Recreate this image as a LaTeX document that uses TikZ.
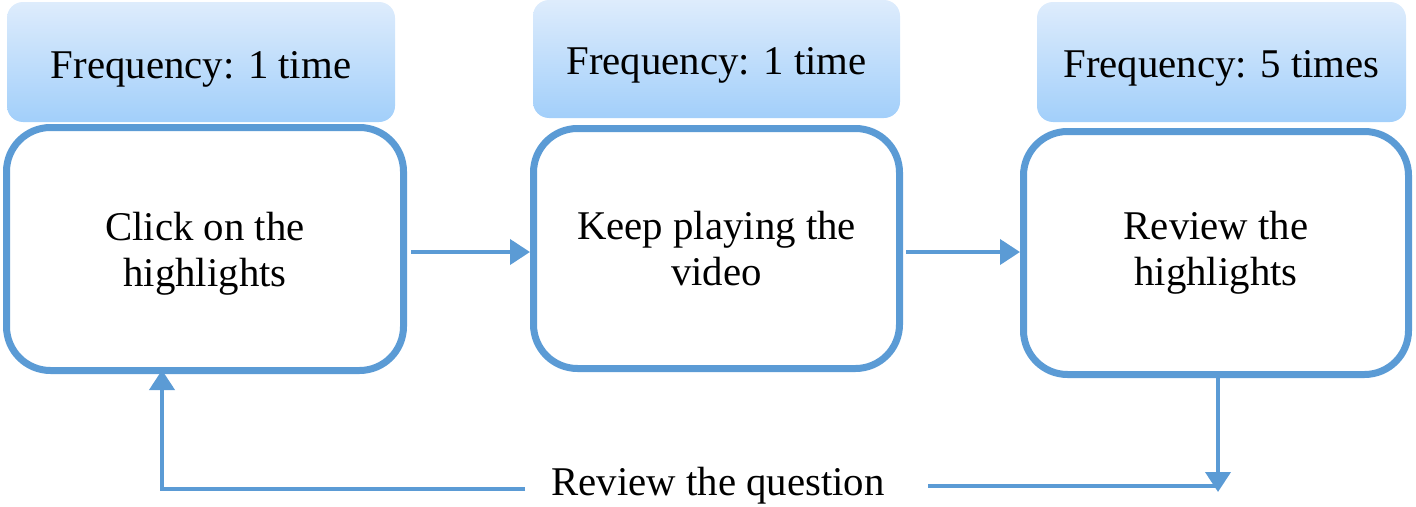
\documentclass[tikz,border=0pt]{standalone}
\usepackage{fontspec}
\setmainfont{Liberation Serif}
\usetikzlibrary{arrows.meta}
\definecolor{officeblue}{HTML}{5B9BD5}
\definecolor{hdrtop}{HTML}{DEECFC}
\definecolor{hdrbot}{HTML}{A2CFFA}
\begin{document}
\begin{tikzpicture}[x=1pt,y=-1pt,
  stepbox/.style={draw=officeblue, line width=7pt, rounded corners=44pt, fill=white,
    inner sep=0pt, align=center, font=\fontsize{40.8}{46}\selectfont},
  header/.style={rounded corners=16pt, top color=hdrtop, bottom color=hdrbot, draw=none,
    inner sep=0pt, font=\fontsize{40.8}{46}\selectfont},
  conn/.style={draw=officeblue, line width=4pt},
  arr/.style={conn, -{Triangle[length=20pt,width=25pt]}},
  lbl/.style={font=\fontsize{40.8}{46}\selectfont, inner sep=0pt, align=center}
]
\useasboundingbox (0,0) rectangle (1416,506);
% headers
\node[header, minimum width=388pt, minimum height=120pt] (h1) at (201,62) {};
\node[header, minimum width=367pt, minimum height=118pt] (h2) at (716.5,59) {};
\node[header, minimum width=369pt, minimum height=120pt] (h3) at (1221.5,62) {};
\node[lbl] (t1) at (201,69) {Frequency: 1 time};
\node[lbl] (t2) at (716.5,65) {Frequency: 1 time};
\node[lbl] (t3) at (1221.5,68) {Frequency: 5 times};
% boxes
\node[stepbox, minimum width=397pt, minimum height=243pt] (b1) at (205,249) {};
\node[lbl] (b1t) at (205,254) {Click on the\\highlights};
\node[stepbox, minimum width=366pt, minimum height=240pt] (b2) at (716.5,248.5)
  {Keep playing the\\video};
\node[stepbox, minimum width=385pt, minimum height=243pt] (b3) at (1216,253)
  {Review the\\highlights};
% forward arrows
\coordinate (a1s) at (411,252);
\coordinate (a2s) at (906,252);
\draw[arr] (a1s) -- (a1s -| b2.west);
\draw[arr] (a2s) -- (a2s -| b3.west);
% feedback
\node[lbl] (q) at (718,486) {Review the question};
\coordinate (qL) at (525,489);
\coordinate (fbL) at (162,489);
\coordinate (qR) at (928,486);
\coordinate (fbR) at (1216,486);
\coordinate (dn) at (1218,492);
\draw[arr] (qL) -- (fbL) -- ([yshift=4pt]fbL |- b1.south);
\draw[conn] (qR) -- (fbR);
\draw[arr] ([yshift=3pt]dn |- b3.south) -- (dn);
\end{tikzpicture}
\end{document}
